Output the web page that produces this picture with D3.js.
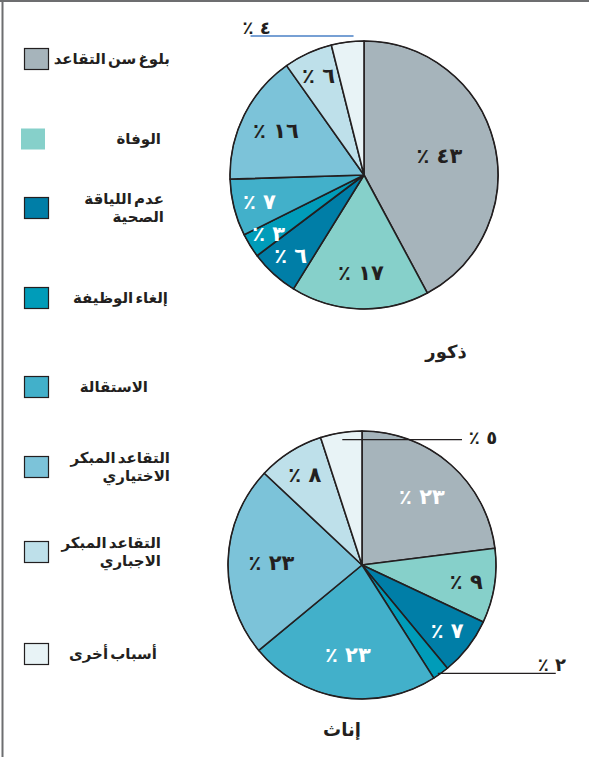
<!DOCTYPE html>
<html>
<head>
<meta charset="utf-8">
<script src="https://cdn.jsdelivr.net/npm/d3@7"></script>
<style>
  html, body { margin: 0; padding: 0; background: #fff; }
  svg { display: block; font-family: "DejaVu Sans", sans-serif; }
</style>
</head>
<body>
<script>
// retirement reasons, same order in both pies (clockwise from 12 o'clock)
const categories = [
  'بلوغ سن التقاعد',
  'الوفاة',
  'عدم اللياقة|الصحية',
  'إلغاء الوظيفة',
  'الاستقالة',
  'التقاعد المبكر|الاختياري',
  'التقاعد المبكر|الاجباري',
  'أسباب أخرى'
];
const colors = ['#a6b4bb', '#86d0ca', '#007ea7', '#009cb9', '#42b0ca', '#7cc3d9', '#bee0ea', '#e8f3f6'];

const maleValues = [43, 17, 6, 3, 7, 16, 6, 4];
const femaleValues = [23, 9, 7, 2, 23, 23, 8, 5];

// label text colour per slice (white on the darker fills)
const maleLabelWhite = [false, false, true, true, true, false, false, false];
const femaleLabelWhite = [true, false, true, false, true, false, false, false];

const maleTitle = 'ذكور';
const femaleTitle = 'إناث';

const width = 589;
const height = 757;
const radius = 134;

const toArabic = n => String(n).replace(/\d/g, d => '٠١٢٣٤٥٦٧٨٩'[d]);
const pctText = v => toArabic(v) + ' ٪';

const svg = d3.select('body')
  .append('svg')
    .attr('width', width)
    .attr('height', height);

// frame
svg.append('line')
  .attr('x1', 0).attr('x2', width).attr('y1', 1).attr('y2', 1)
  .attr('stroke', '#6d6e70').attr('stroke-width', 2);
svg.append('line')
  .attr('x1', 2.5).attr('x2', 2.5).attr('y1', 0).attr('y2', height)
  .attr('stroke', '#6d6e70').attr('stroke-width', 2);

// legend
const legendY = [59, 139, 208, 298, 387, 467, 552, 654];
const legendTextX = [170, 161, 164, 168, 148, 170, 161, 157];

const legend = svg.append('g')
  .selectAll('g')
  .data(categories)
  .join('g')
    .attr('transform', (d, i) => `translate(0,${legendY[i]})`);

legend.append('rect')
  .attr('x', (d, i) => i === 1 ? 21 : 24.5)
  .attr('y', -10.5)
  .attr('width', 24)
  .attr('height', 21)
  .attr('fill', (d, i) => colors[i])
  .attr('stroke', (d, i) => i === 1 ? 'none' : '#231f20')
  .attr('stroke-width', 1.2);

legend.append('text')
  .attr('direction', 'rtl')
  .attr('text-anchor', 'start')
  .attr('font-size', 15)
  .attr('font-weight', 'bold')
  .attr('word-spacing', -3)
  .attr('fill', '#231f20')
  .each(function (d, i) {
    const lines = d.split('|');
    const t = d3.select(this);
    lines.forEach((line, j) => {
      t.append('tspan')
        .attr('x', legendTextX[i])
        .attr('y', (lines.length === 1 ? 5 : -4) + j * 18)
        .text(line);
    });
  });

// pies
const pie = d3.pie().sort(null).value(d => d);
const arc = d3.arc().innerRadius(0).outerRadius(radius);

function drawPie(values, whiteLabels, cx, cy, title, titleX, titleY) {
  const g = svg.append('g').attr('transform', `translate(${cx},${cy})`);
  const arcs = pie(values);

  g.selectAll('path')
    .data(arcs)
    .join('path')
      .attr('d', arc)
      .attr('fill', (d, i) => colors[i])
      .attr('stroke', '#231f20')
      .attr('stroke-width', 1.6)
      .attr('stroke-linejoin', 'round');

  g.append('circle')
    .attr('r', radius)
    .attr('fill', 'none')
    .attr('stroke', '#231f20')
    .attr('stroke-width', 1);

  const total = d3.sum(values);
  const inside = arcs.filter((d, i) => i !== 7 && d.value / total > 0.025);

  g.selectAll('text.pct')
    .data(inside)
    .join('text')
      .attr('class', 'pct')
      .attr('direction', 'rtl')
      .attr('text-anchor', 'middle')
      .attr('dy', '0.35em')
      .attr('font-size', 21)
      .attr('font-weight', 'bold')
      .attr('fill', d => whiteLabels[d.index] ? '#fff' : '#231f20')
      .attr('transform', d => {
        const f = Math.max(0.58, 0.86 - 0.8 * d.value / total);
        const a = (d.startAngle + d.endAngle) / 2;
        return `translate(${Math.sin(a) * radius * f},${-Math.cos(a) * radius * f})`;
      })
      .text(d => pctText(d.value));

  svg.append('text')
    .attr('x', titleX)
    .attr('y', titleY)
    .attr('direction', 'rtl')
    .attr('text-anchor', 'middle')
    .attr('font-size', 18)
    .attr('font-weight', 'bold')
    .attr('fill', '#231f20')
    .text(title);

  return { g, arcs };
}

const male = drawPie(maleValues, maleLabelWhite, 364, 175, maleTitle, 446, 358);
const female = drawPie(femaleValues, femaleLabelWhite, 362, 565, femaleTitle, 342, 736);

// call-outs for the thin slices
function edgePoint(d, f) {
  const a = (d.startAngle + d.endAngle) / 2;
  return [Math.sin(a) * radius * f, -Math.cos(a) * radius * f];
}

// male: other reasons, blue leader to the upper left
{
  const d = male.arcs[7];
  const [x, y] = edgePoint(d, 1);
  male.g.append('line')
    .attr('x1', x + 6).attr('x2', x - 97)
    .attr('y1', y - 6).attr('y2', y - 6)
    .attr('stroke', '#4a80c6').attr('stroke-width', 1.5);
  male.g.append('text')
    .attr('x', x - 91).attr('y', y - 8)
    .attr('direction', 'rtl')
    .attr('text-anchor', 'middle')
    .attr('font-size', 18)
    .attr('font-weight', 'bold')
    .attr('fill', '#231f20')
    .text(pctText(d.value));
}

// female: other reasons, leader to the right
{
  const d = female.arcs[7];
  const [x, y] = edgePoint(d, 0.94);
  female.g.append('line')
    .attr('x1', x).attr('x2', 100)
    .attr('y1', y - 1).attr('y2', y - 1)
    .attr('stroke', '#231f20').attr('stroke-width', 1.3);
  female.g.append('text')
    .attr('x', 121).attr('y', y - 3)
    .attr('dy', '0.35em')
    .attr('direction', 'rtl')
    .attr('text-anchor', 'middle')
    .attr('font-size', 18)
    .attr('font-weight', 'bold')
    .attr('fill', '#231f20')
    .text(pctText(d.value));
}

// female: job abolished, leader to the right
{
  const d = female.arcs[3];
  const [x, y] = edgePoint(d, 1);
  female.g.append('line')
    .attr('x1', x - 3).attr('x2', x + 115)
    .attr('y1', y).attr('y2', y)
    .attr('stroke', '#231f20').attr('stroke-width', 1.3);
  female.g.append('text')
    .attr('x', x + 111).attr('y', y - 2)
    .attr('direction', 'rtl')
    .attr('text-anchor', 'middle')
    .attr('font-size', 18)
    .attr('font-weight', 'bold')
    .attr('fill', '#231f20')
    .text(pctText(d.value));
}
</script>
</body>
</html>
